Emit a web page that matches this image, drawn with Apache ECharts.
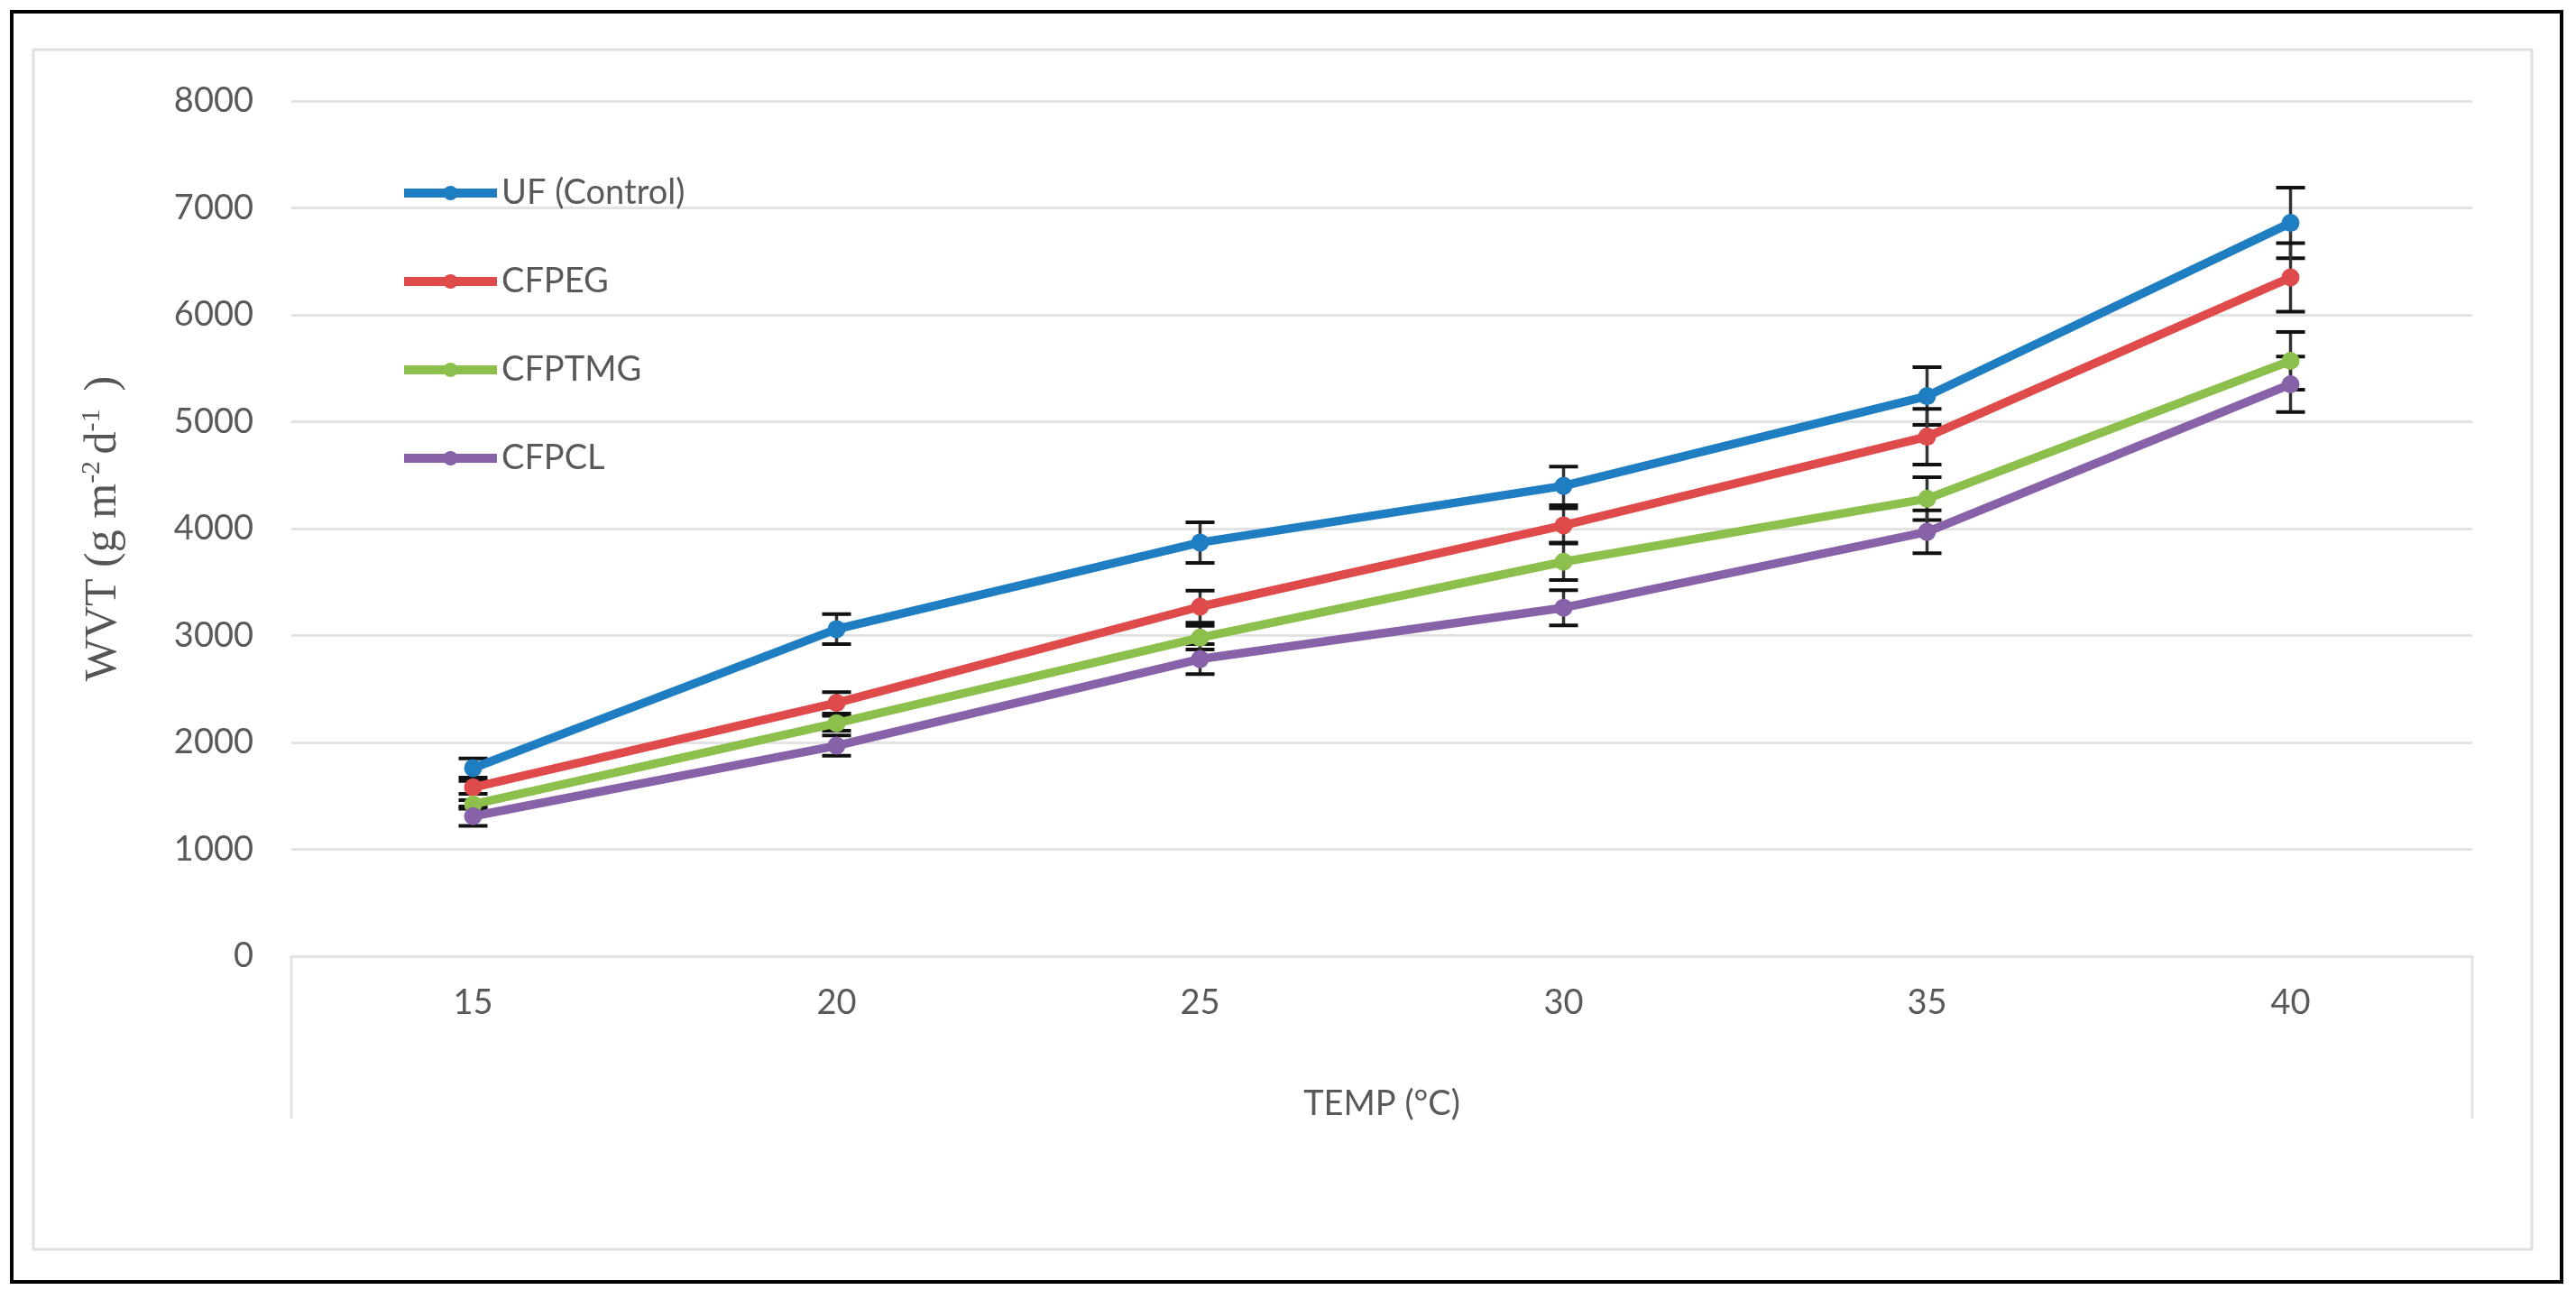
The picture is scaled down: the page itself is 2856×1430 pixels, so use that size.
<!DOCTYPE html>
<html>
<head>
<meta charset="utf-8">
<script src="https://cdn.jsdelivr.net/npm/echarts@6/dist/echarts.min.js"></script>
<style>
html,body{margin:0;padding:0;background:#fff;}
#chart{width:2856px;height:1430px;}
</style>
</head>
<body>
<div id="chart"></div>
<script>
const categories = ['15', '20', '25', '30', '35', '40'];
const seriesNames = ['UF (Control)', 'CFPEG', 'CFPTMG', 'CFPCL'];
const ufValues = [1760, 3060, 3870, 4400, 5240, 6860];
const cfpegValues = [1580, 2370, 3270, 4030, 4860, 6350];
const cfptmgValues = [1420, 2180, 2980, 3690, 4280, 5570];
const cfpclValues = [1310, 1970, 2780, 3260, 3970, 5350];
const ufErr = [90, 140, 190, 180, 270, 330];
const cfpegErr = [60, 100, 150, 160, 260, 320];
const cfptmgErr = [40, 70, 110, 170, 200, 270];
const cfpclErr = [90, 95, 140, 165, 200, 260];
const yTicks = [0, 1000, 2000, 3000, 4000, 5000, 6000, 7000, 8000];

const colors = ['#1F7DC2', '#DF4B4A', '#8CBF4B', '#8862A8'];
const values = [ufValues, cfpegValues, cfptmgValues, cfpclValues];
const errs = [ufErr, cfpegErr, cfptmgErr, cfpclErr];

const W = 2856, H = 1430;
const gridLeft = 323, gridRight = 2741, gridTop = 112, gridBottom = 1060;
const FONT = 'Lato';

const chart = echarts.init(document.getElementById('chart'), null, {renderer: 'canvas'});

const lineSeries = seriesNames.map((name, k) => ({
  name: name,
  type: 'line',
  data: values[k],
  z: 5,
  symbol: 'circle',
  symbolSize: 20,
  lineStyle: {width: 9.5, color: colors[k]},
  itemStyle: {color: colors[k]},
  emphasis: {disabled: true},
  animation: false
}));

const errSeries = seriesNames.map((name, k) => ({
  name: name + ' err',
  type: 'custom',
  z: 3,
  animation: false,
  silent: true,
  data: values[k].map((v, i) => [i, v - errs[k][i], v + errs[k][i]]),
  encode: {x: 0, y: [1, 2]},
  renderItem: function (params, api) {
    const lo = api.coord([api.value(0), api.value(1)]);
    const hi = api.coord([api.value(0), api.value(2)]);
    const half = 16;
    const st = {stroke: '#111', lineWidth: 4};
    return {
      type: 'group',
      children: [
        {type: 'line', shape: {x1: hi[0], y1: hi[1], x2: lo[0], y2: lo[1]}, style: {stroke: '#333', lineWidth: 3.5}},
        {type: 'line', shape: {x1: hi[0] - half, y1: hi[1], x2: hi[0] + half, y2: hi[1]}, style: st},
        {type: 'line', shape: {x1: lo[0] - half, y1: lo[1], x2: lo[0] + half, y2: lo[1]}, style: st}
      ]
    };
  }
}));

const option = {
  backgroundColor: '#ffffff',
  animation: false,
  textStyle: {fontFamily: FONT},
  grid: {left: gridLeft, right: W - gridRight, top: gridTop, bottom: H - gridBottom},
  legend: {
    data: seriesNames,
    orient: 'vertical',
    left: 438,
    top: 189,
    itemWidth: 103,
    itemHeight: 20,
    itemGap: 58,
    selectedMode: false,
    lineStyle: {width: 10},
    textStyle: {fontFamily: FONT, fontSize: 38, color: '#595959', lineHeight: 40}
  },
  xAxis: {
    type: 'category',
    data: categories,
    boundaryGap: true,
    axisLine: {show: true, lineStyle: {color: '#E3E3E3', width: 3}},
    axisTick: {show: false},
    axisLabel: {fontFamily: FONT, fontSize: 38, color: '#595959', margin: 33},
    name: 'TEMP (°C)',
    nameLocation: 'middle',
    nameGap: 145,
    nameTextStyle: {fontFamily: FONT, fontSize: 38, color: '#595959'}
  },
  yAxis: {
    type: 'value',
    min: yTicks[0],
    max: yTicks[yTicks.length - 1],
    interval: 1000,
    axisLine: {show: false},
    axisTick: {show: false},
    axisLabel: {fontFamily: FONT, fontSize: 38, color: '#595959', margin: 42, formatter: v => String(v)},
    splitLine: {show: true, lineStyle: {color: '#E3E3E3', width: 3}},
    name: '{a|WVT (g m}{s|-2 }{a|d}{s|-1 }{a| )}',
    nameLocation: 'middle',
    nameRotate: 90,
    nameGap: 180,
    nameTextStyle: {
      rich: {
        a: {fontFamily: 'Liberation Serif', fontSize: 50, color: '#555555', lineHeight: 56, verticalAlign: 'middle'},
        s: {fontFamily: 'Liberation Serif', fontSize: 30, color: '#555555', lineHeight: 30, verticalAlign: 'top'}
      }
    }
  },
  graphic: [
    {type: 'rect', z: 0, silent: true, shape: {x: 37, y: 55, width: 2770, height: 1330}, style: {fill: null, stroke: '#E0E0E0', lineWidth: 3}},
    {type: 'rect', z: 0, silent: true, shape: {x: 13, y: 13, width: 2827, height: 1408}, style: {fill: null, stroke: '#000', lineWidth: 4}},
    {type: 'line', z: 0, silent: true, shape: {x1: gridLeft, y1: gridBottom, x2: gridLeft, y2: 1240}, style: {stroke: '#E3E3E3', lineWidth: 3}},
    {type: 'line', z: 0, silent: true, shape: {x1: gridRight, y1: gridBottom, x2: gridRight, y2: 1240}, style: {stroke: '#E3E3E3', lineWidth: 3}}
  ],
  series: errSeries.concat(lineSeries)
};

chart.setOption(option);
</script>
</body>
</html>
